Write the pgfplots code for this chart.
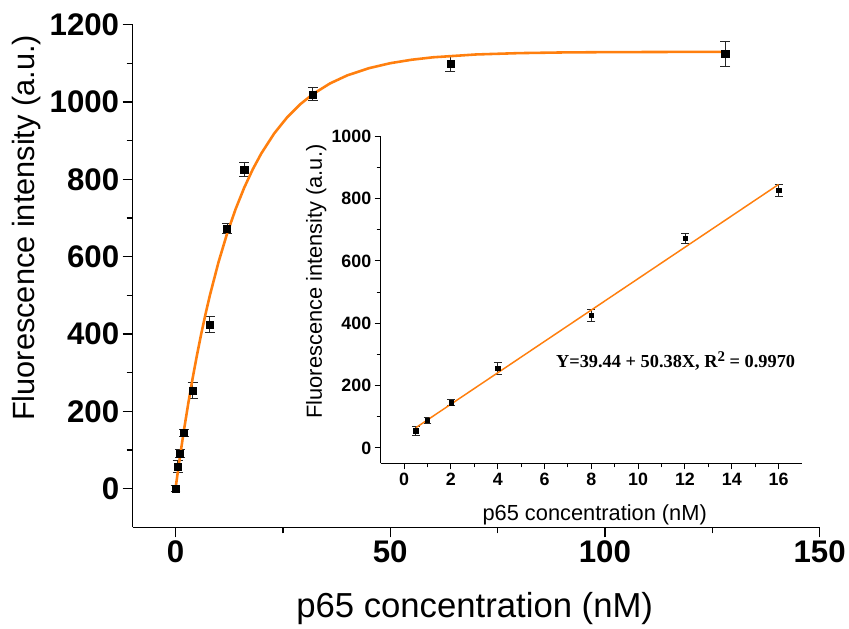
\documentclass[border=0pt]{standalone}
\usepackage{pgfplots}
\pgfplotsset{compat=1.18}
\usepackage{pgfplotstable}
\usepackage{fontspec}
\setmainfont{Liberation Sans}
\newfontfamily\timesfont{Liberation Serif}
\definecolor{fitorange}{RGB}{255,127,14}

\pgfplotstableread{
x y e
0 0 8
0.5 57 15
1 91 10
2 144 10
4 254 20
8 425 20
12 673 12
16 826 18
32 1020 17
64 1100 20
128 1125 32
}\maindata

\pgfplotstableread{
x y e
0.5 55 15
1 88 10
2 145 10
4 255 20
8 425 20
12 672 15
16 826 18
}\insetdata

\pgfplotstableread{
x y
0 0
1 79.6
2 153.5
3 222.2
4 286.1
5 345.5
6 400.8
7 452.1
8 499.8
10 585.3
12 659.3
14 723.3
16 778.6
18 826.3
20 867.5
23 919.1
26 960.6
29 994.0
32 1020.7
36 1048.4
40 1069.1
45 1087.6
50 1100.6
55 1109.6
60 1115.9
70 1123.2
80 1126.7
90 1128.4
100 1129.2
115 1129.7
128 1129.9
}\fitdata

\begin{document}
\begin{tikzpicture}[x=1pt,y=1pt]
\path (0,0) rectangle (849,632);
\begin{axis}[
  at={(133.7pt,100pt)}, anchor=south west,
  scale only axis, width=693.1pt, height=507pt,
  xmin=-10, xmax=150, ymin=-100, ymax=1200,
  axis lines*=left,
  axis line style={line width=1.6pt, black},
  xtick={0,50,100,150}, minor xtick={25,75,125},
  ytick={0,200,400,600,800,1000,1200}, minor ytick={100,300,500,700,900,1100},
  tick align=outside, major tick length=10pt, minor tick length=6pt,
  every tick/.append style={line width=1.4pt, black},
  /pgf/number format/assume math mode=true,
  /pgf/number format/1000 sep={},
  tick label style={font=\fontsize{31.5}{36}\selectfont\bfseries},
  xlabel={p65 concentration (nM)}, ylabel={Fluorescence intensity (a.u.)},
  xlabel style={font=\fontsize{35}{40}\selectfont, at={(axis description cs:0.498,-0.162)}, anchor=center},
  ylabel style={font=\fontsize{31}{36}\selectfont, at={(axis description cs:-0.154,0.596)}, anchor=center},
  clip=false,
]
\addplot[only marks, mark=square*, mark size=3.6pt, black,
  error bars/.cd, y dir=both, y explicit,
  error bar style={line width=1pt, black!85},
  error mark options={rotate=90, mark size=5pt, line width=1pt, black!85}]
  table[x=x, y=y, y error=e] {\maindata};
\addplot[fitorange, line width=2.6pt, no marks] table[x=x, y=y] {\fitdata};
\end{axis}

\begin{axis}[
  at={(384pt,164.5pt)}, anchor=south west,
  scale only axis, width=425pt, height=330pt,
  xmin=-1, xmax=17, ymin=-50, ymax=1000,
  axis lines*=left,
  axis line style={line width=1.2pt, black},
  xtick={0,2,...,16}, minor xtick={1,3,...,15},
  ytick={0,200,400,600,800,1000}, minor ytick={100,300,500,700,900},
  tick align=outside, major tick length=6pt, minor tick length=4pt,
  every tick/.append style={line width=1pt, black},
  /pgf/number format/assume math mode=true,
  /pgf/number format/1000 sep={},
  tick label style={font=\fontsize{18}{22}\selectfont\bfseries},
  xlabel={p65 concentration (nM)}, ylabel={Fluorescence intensity (a.u.)},
  label style={font=\fontsize{22}{26}\selectfont},
  xlabel style={at={(axis description cs:0.508,-0.158)}, anchor=center},
  ylabel style={at={(axis description cs:-0.153,0.556)}, anchor=center},
  clip=false,
]
\addplot[only marks, mark=square*, mark size=2.2pt, black,
  error bars/.cd, y dir=both, y explicit,
  error bar style={line width=0.9pt, black!85},
  error mark options={rotate=90, mark size=4pt, line width=0.9pt, black!85}]
  table[x=x, y=y, y error=e] {\insetdata};
\addplot[fitorange, line width=1.5pt, no marks] coordinates {(0.5,64.63) (16,845.52)};
\node[font=\timesfont\bfseries\fontsize{18.5}{22}\selectfont] at (axis cs:11.6,279) {Y=39.44 + 50.38X, R\raisebox{0.75ex}{\fontsize{15}{15}\selectfont 2} = 0.9970};
\end{axis}
\end{tikzpicture}
\end{document}
